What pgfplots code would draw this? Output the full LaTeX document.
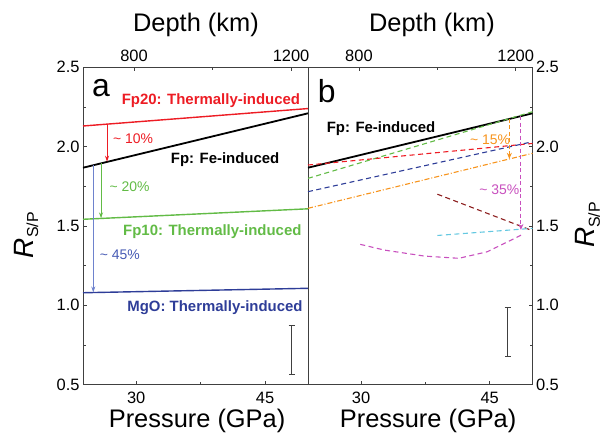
\documentclass[border=0pt]{standalone}
\usepackage{fontspec}
\setmainfont{Liberation Sans}
\usepackage{pgfplots}
\pgfplotsset{compat=1.18}
\usetikzlibrary{arrows.meta}

\definecolor{cRed}{RGB}{237,28,36}
\definecolor{cGreen}{RGB}{98,187,70}
\definecolor{cBlue}{RGB}{46,61,152}
\definecolor{cBlueL}{RGB}{110,130,205}
\definecolor{cBlueM}{RGB}{70,90,180}
\definecolor{cOrange}{RGB}{247,148,29}
\definecolor{cMag}{RGB}{200,80,190}
\definecolor{cBrown}{RGB}{140,30,30}
\definecolor{cCyan}{RGB}{100,200,225}
\definecolor{cAxis}{RGB}{64,64,64}

\tikzset{
  ann/.style={font=\bfseries\fontsize{15}{16}\selectfont},
  pct/.style={font=\fontsize{14}{15}\selectfont, anchor=west},
  dsh/.style={line width=1.1bp, dash pattern=on 5bp off 3.5bp},
}

\pgfplotsset{
  base/.style={
    scale only axis, width=225bp, height=317.3bp,
    xmin=23.8, xmax=50, ymin=0.5, ymax=2.5,
    axis line style={cAxis, line width=0.9bp},
    tick style={cAxis, line width=0.8bp},
    major tick length=4bp, minor tick length=3bp,
    tick align=inside,
    xtick={30,45}, minor xtick={37.5},
    ytick={0.5,1.0,1.5,2.0,2.5}, minor ytick={0.75,1.25,1.75,2.25},
    xtick pos=bottom,
    ticklabel style={font=\fontsize{16.5}{18}\selectfont},
    xticklabel style={yshift=-4bp},
    /pgf/number format/assume math mode=true,
    yticklabel style={/pgf/number format/.cd, fixed, fixed zerofill, precision=1},
    label style={font=\fontsize{25.5}{28}\selectfont},
    clip=false,
  },
  top/.style={
    scale only axis, width=225bp, height=317.3bp,
    xmin=670, xmax=1243, ymin=0, ymax=1,
    axis line style={draw=none},
    tick style={cAxis, line width=0.8bp},
    major tick length=4bp, minor tick length=3bp,
    tick align=inside,
    xtick={800,1200}, minor xtick={1000},
    ytick=\empty,
    xtick pos=upper, xticklabel pos=upper,
    ticklabel style={font=\fontsize{16.5}{18}\selectfont},
    xticklabel style={yshift=2bp},
    /pgf/number format/assume math mode=true,
    /pgf/number format/1000 sep={},
    label style={font=\fontsize{25.5}{28}\selectfont},
  },
}

\newcommand{\RSP}{{\fontsize{28}{30}\selectfont\textit{R}}{\fontsize{16}{18}\selectfont\raisebox{-5bp}{S/P}}}

\begin{document}
\begin{tikzpicture}
% ---------------- panel a ----------------
\begin{axis}[base, at={(83bp,53.4bp)}, anchor=south west,
  ytick pos=left,
  xlabel={Pressure (GPa)},
  xlabel style={at={(axis description cs:0.507,-0.114)}, anchor=center},
  ylabel={\RSP},
  ylabel style={at={(axis description cs:-0.253,0.471)}, anchor=center},
]
\addplot[cRed, line width=1.4bp] coordinates {(23.8,2.13) (50,2.24)};
\addplot[black, line width=1.8bp] coordinates {(23.8,1.867) (50,2.21)};
\addplot[cGreen, line width=1.4bp] coordinates {(23.8,1.542) (50,1.608)};
\addplot[cBlue, line width=1.4bp] coordinates {(23.8,1.079) (50,1.107)};
% arrows
\addplot[cRed, line width=0.9bp, -{Stealth[length=6bp,width=4bp]}] coordinates {(26.6,2.142) (26.6,1.905)};
\addplot[cGreen, line width=0.9bp, -{Stealth[length=6bp,width=4bp]}] coordinates {(25.9,1.894) (25.9,1.548)};
\addplot[cBlueL, line width=1.3bp, -{Stealth[length=6bp,width=4bp]}] coordinates {(25.0,1.883) (25.0,1.081)};
% error bar
\addplot[cAxis, line width=0.9bp, mark=none, error bars/.cd, y dir=both, y explicit,
  error bar style={line width=0.9bp}, error mark options={rotate=90, mark size=3bp, line width=0.9bp}]
  coordinates {(48.1,0.718) +- (0,0.152)};
% labels
\node[cRed, ann] at (axis cs:38.7,2.293) {Fp20: Thermally-induced};
\node[black, ann] at (axis cs:40.35,1.92) {Fp: Fe-induced};
\node[cGreen, ann] at (axis cs:38.86,1.463) {Fp10: Thermally-induced};
\node[cBlue, ann] at (axis cs:39.17,0.987) {MgO: Thermally-induced};
\node[cRed, pct] at (axis cs:26.9,2.05) {\textasciitilde{} 10\%};
\node[cGreen, pct] at (axis cs:26.5,1.75) {\textasciitilde{} 20\%};
\node[cBlueM, pct] at (axis cs:25.35,1.32) {\textasciitilde{} 45\%};
\node[font=\fontsize{32}{34}\selectfont] at (axis cs:25.9,2.37) {a};
\end{axis}
\begin{axis}[top, at={(83bp,53.4bp)}, anchor=south west,
  xlabel={Depth (km)},
  xlabel style={at={(axis description cs:0.502,1.135)}, anchor=center},
]
\end{axis}
% ---------------- panel b ----------------
\begin{axis}[base, at={(308bp,53.4bp)}, anchor=south west, width=224.5bp,
  ytick pos=right, yticklabel pos=right,
  xlabel={Pressure (GPa)},
  xlabel style={at={(axis description cs:0.535,-0.114)}, anchor=center},
  ylabel={\RSP},
  ylabel style={at={(axis description cs:1.247,0.503)}, anchor=center},
]
\addplot[black, line width=1.8bp] coordinates {(23.8,1.867) (50,2.21)};
\addplot[cGreen, dsh] coordinates {(23.8,1.80) (50,2.22)};
\addplot[cRed, dsh] coordinates {(23.8,1.884) (50,2.02)};
\addplot[cBlue, dsh] coordinates {(23.8,1.716) (50,2.031)};
\addplot[cOrange, line width=1.1bp, dash pattern=on 5bp off 2bp on 1bp off 2bp] coordinates {(23.8,1.611) (50,1.958)};
\addplot[cBrown, dsh] coordinates {(38.9,1.70) (50,1.47)};
\addplot[cCyan, dsh] coordinates {(38.9,1.44) (50,1.485)};
\addplot[cMag, dsh] coordinates {(29.9,1.384) (32.7,1.348) (37.4,1.31) (41.4,1.296) (44.7,1.337) (47.1,1.40) (48.7,1.443)};
% arrows
\addplot[cOrange, line width=1bp, dash pattern=on 4bp off 2.5bp, -{Stealth[length=6bp,width=5bp]}] coordinates {(47.3,2.175) (47.3,1.923)};
\addplot[cMag, line width=1bp, dash pattern=on 4bp off 2.5bp, -{Stealth[length=6bp,width=5bp]}] coordinates {(48.65,2.192) (48.65,1.475)};
% error bar
\addplot[cAxis, line width=0.9bp, mark=none, error bars/.cd, y dir=both, y explicit,
  error bar style={line width=0.9bp}, error mark options={rotate=90, mark size=3bp, line width=0.9bp}]
  coordinates {(47.1,0.83) +- (0,0.155)};
% labels
\node[black, ann] at (axis cs:32.32,2.115) {Fp: Fe-induced};
\node[cOrange, pct] at (axis cs:42.3,2.046) {\textasciitilde{} 15\%};
\node[cMag, pct] at (axis cs:43.4,1.726) {\textasciitilde{} 35\%};
\node[font=\fontsize{32}{34}\selectfont] at (axis cs:25.98,2.35) {b};
\end{axis}
\begin{axis}[top, at={(308bp,53.4bp)}, anchor=south west, width=224.5bp,
  xlabel={Depth (km)},
  xlabel style={at={(axis description cs:0.552,1.135)}, anchor=center},
]
\end{axis}
\pgfresetboundingbox
\path[use as bounding box] (0,0) rectangle (603bp,438bp);
\end{tikzpicture}
\end{document}
